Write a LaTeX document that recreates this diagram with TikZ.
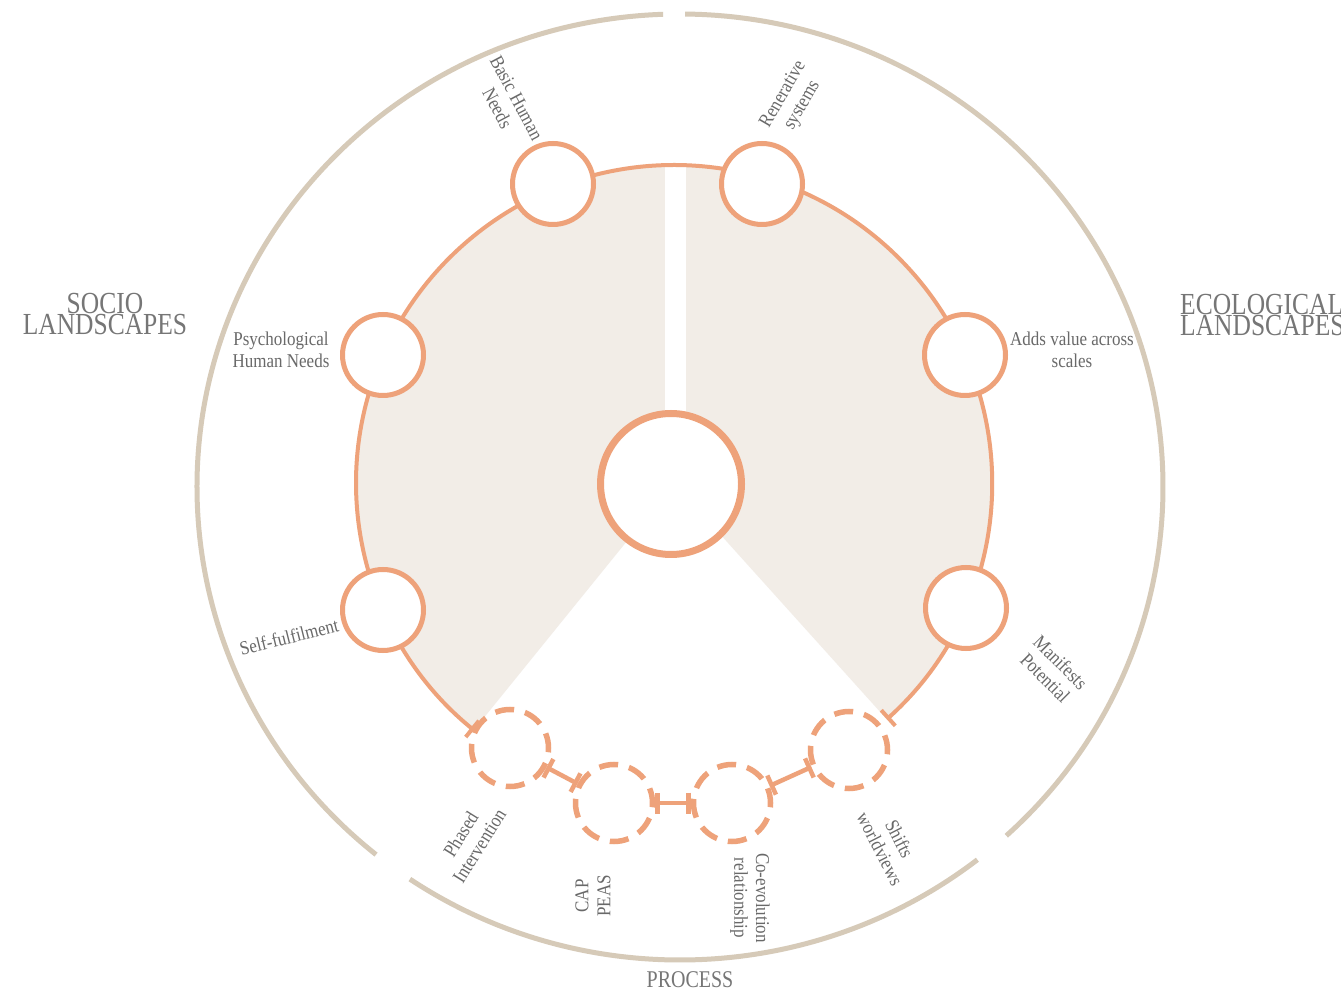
\documentclass[tikz,border=0pt]{standalone}
\usepackage{fontspec}
\setmainfont{Liberation Serif}
\usetikzlibrary{arrows.meta,calc}
\definecolor{orng}{RGB}{238,162,122}
\definecolor{beige}{RGB}{214,202,184}
\definecolor{sect}{RGB}{242,237,231}
\definecolor{lbl}{RGB}{105,105,105}
\definecolor{ttl}{RGB}{118,118,118}
\begin{document}
\begin{tikzpicture}[x=1pt,y=1pt,
  ring/.style={draw=beige,line width=5pt},
  solidc/.style={circle,draw=orng,fill=white,line width=5pt,minimum size=81pt,inner sep=0pt},
  dashc/.style={circle,draw=orng,fill=white,line width=5.5pt,minimum size=77pt,inner sep=0pt,dash pattern=on 19pt off 11.2pt,dash phase=4pt},
  corec/.style={circle,draw=orng,fill=white,line width=7pt,minimum size=141pt,inner sep=0pt},
  link/.style={draw=orng,line width=4.5pt,{Bar[width=21pt]}-{Bar[width=21pt]}},
  lab/.style={yscale=1.15,text=lbl,font=\fontsize{17}{19}\selectfont,align=center,inner sep=0pt},
  ttlst/.style={yscale=1.2,text=ttl,font=\fontsize{25.5}{18}\selectfont,align=center,inner sep=0pt}]
\useasboundingbox (0,0) rectangle (1341,994);
\fill[white] (0,0) rectangle (1341,994);
\coordinate (O) at (680,507);
\coordinate (C) at (674,511);
% outer ring
\draw[ring] (O) ++(92:483 and 473) arc[start angle=92,end angle=231,x radius=483,y radius=473];
\draw[ring] (O) ++(236:483 and 473) arc[start angle=236,end angle=308,x radius=483,y radius=473];
\draw[ring] (O) ++(-47.5:483 and 473) arc[start angle=-47.5,end angle=89.4,x radius=483,y radius=473];
% sector
\fill[sect] (C) -- ++(-48:318) arc[start angle=-48,end angle=231,radius=318] -- cycle;
\fill[white] (665,511) rectangle (686,829);
\draw[orng,line width=4pt,{Bar[width=21pt]}-{Bar[width=21pt]}] (C) ++(-48:318) arc[start angle=-48,end angle=231,radius=318];
% solid circles
\node[solidc] (basic) at (553,810) {};
\node[solidc] (rener) at (762,810) {};
\node[solidc] (psych) at (383,639) {};
\node[solidc] (adds) at (965,639) {};
\node[solidc] (self) at (383,384) {};
\node[solidc] (manif) at (966,386) {};
% dashed circles
\node[dashc] (phased) at (510,246) {};
\node[dashc] (cap) at (614,191) {};
\node[dashc] (coevo) at (732,191) {};
\node[dashc] (shifts) at (849,244) {};
% core
\node[corec] (core) at (671,510) {};
% links
\draw[link] (phased) -- (cap);
\draw[link] (cap) -- (coevo);
\draw[link] (coevo) -- (shifts);
% labels
\node[rotate=-62,lab] at (507,891) {Basic Human\\Needs};
\node[rotate=60,lab] at (793,894) {Renerative\\systems};
\node[lab] at (281,644) {Psychological\\Human Needs};
\node[lab] at (1072,644) {Adds value across\\scales};
\node[rotate=14,lab] at (289,357) {Self-fulfilment};
\node[rotate=-45,lab] at (1053,324) {Manifests\\Potential};
\node[rotate=58,lab] at (470,154) {Phased\\Intervention};
\node[rotate=90,lab] at (593,98) {CAP\\PEAS};
\node[rotate=-90,lab] at (750,96) {Co-evolution\\relationship};
\node[rotate=-63,lab] at (890,150) {Shifts\\worldviews};
% titles
\node[ttlst] at (105,680) {SOCIO\\LANDSCAPES};
\node[ttlst,align=left,anchor=west] at (1180,679) {ECOLOGICAL\\LANDSCAPES};
\node[ttlst,font=\fontsize{20}{22}\selectfont] at (690,14) {PROCESS};
\end{tikzpicture}
\end{document}
